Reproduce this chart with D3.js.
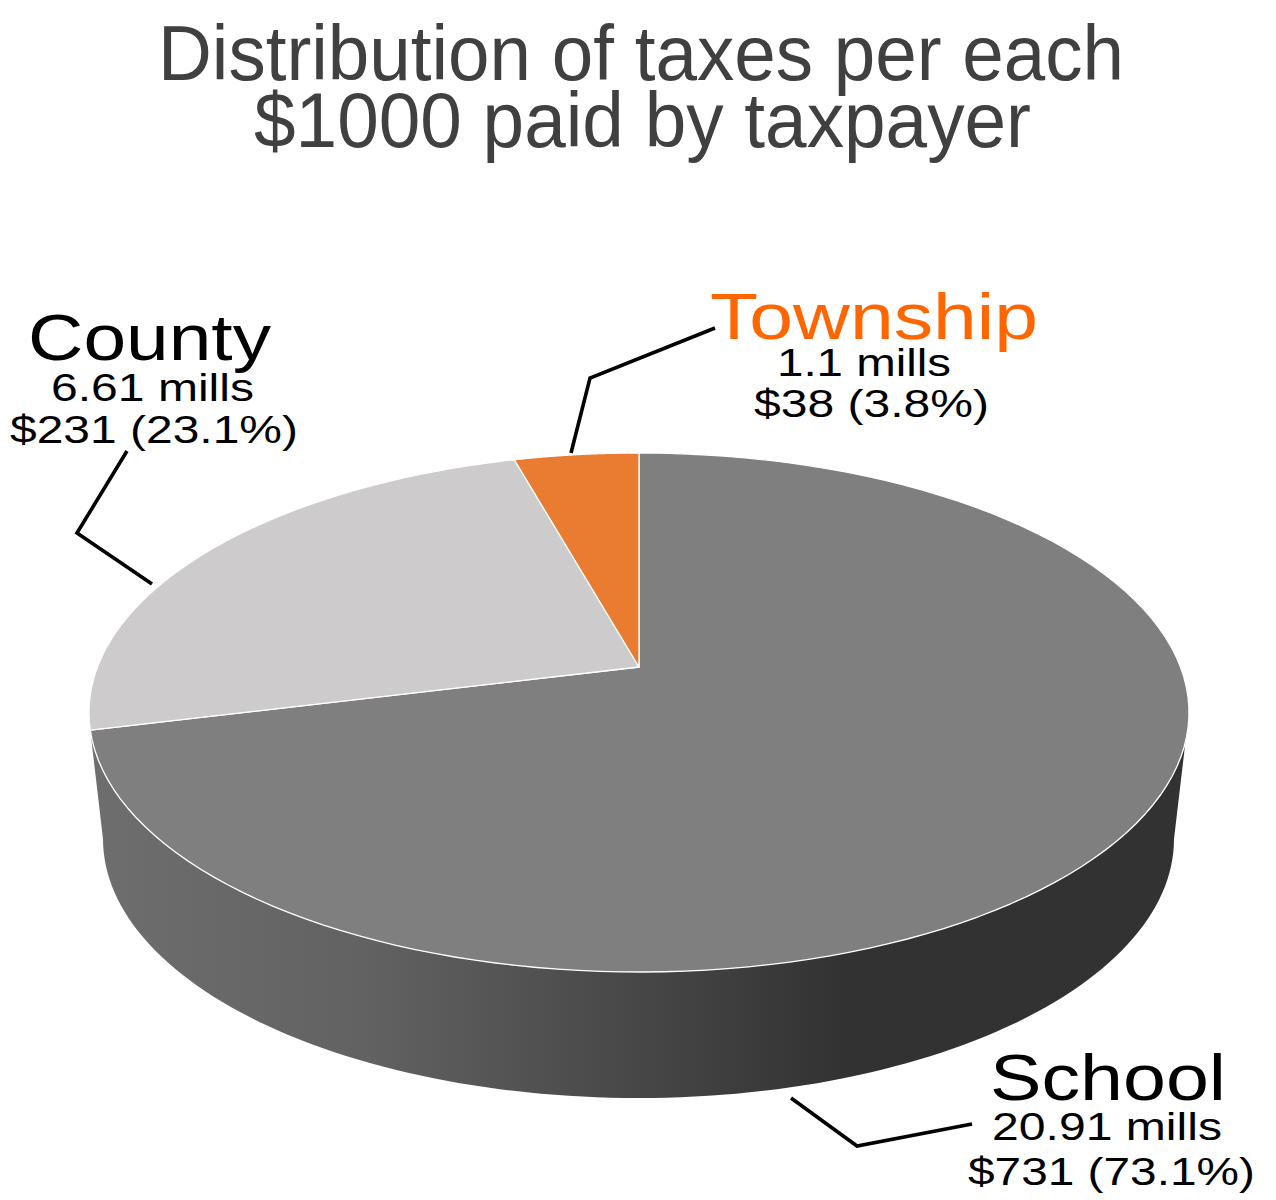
<!DOCTYPE html>
<html><head><meta charset="utf-8"><style>html,body{margin:0;padding:0;background:#fff}svg{display:block}text{font-family:"Liberation Sans",Arial,sans-serif}</style>
<script src="https://d3js.org/d3.v7.min.js"></script></head><body><svg id="c" width="1276" height="1200"></svg>
<script>
const names = ["School", "County", "Township"];
const mills = [20.91, 6.61, 1.1];
const dollars = [731, 231, 38];
const shares = [73.1, 23.1, 3.8];
const sliceColors = ["#7f7f7f", "#cdcbcb", "#e97c30"];
const nameColors = ["#000", "#000", "#ff6600"];
const titleLines = ["Distribution of taxes per each", "$1000 paid by taxpayer"];

const svg = d3.select("#c");
const rad = Math.PI / 180;
const top_ = {cx: 639, cy: 712.5, rx: 550, ry: 259.5};
const bot = {cx: 638.5, cy: 839, rx: 535.5, ry: 259};
const apex = [639, 667];

// Perspective: pie angle -> angle round the drawn ellipse
const warp = d3.scaleLinear()
  .domain([0, 263.16, 346.32, 360].map(d => d * rad))
  .range([0, 266.1, 346.9, 360].map(d => d * rad));
const rim = (e, t) => [e.cx + e.rx * Math.sin(t), e.cy - e.ry * Math.cos(t)];
const samples = (a, b, n = 120) => d3.range(n + 1).map(i => a + (b - a) * i / n);
const line = d3.line();

const defs = svg.append("defs");
const grad = defs.append("linearGradient").attr("id", "wall")
  .attr("gradientUnits", "userSpaceOnUse").attr("x1", 90).attr("x2", 1186).attr("y1", 0).attr("y2", 0);
[[0, "#6e6e6e"], [0.25, "#626262"], [0.5, "#474747"], [0.69, "#323232"], [1, "#323232"]]
  .forEach(([o, c]) => grad.append("stop").attr("offset", o).attr("stop-color", c));

// Side wall
const tLeft = warp(263.16 * rad), tRight = 96.5 * rad;
const wall = [
  ...samples(tLeft, tRight).map(t => rim(top_, t)),
  ...samples(90 * rad, 270 * rad).map(t => rim(bot, t))
];
svg.append("path").attr("d", line(wall) + "Z").attr("fill", "url(#wall)");

// Slices
const pie = d3.pie().sort(null).value(d => d)(dollars);
svg.selectAll("path.slice").data(pie).join("path").attr("class", "slice")
  .attr("d", d => line([apex, ...samples(warp(d.startAngle), warp(d.endAngle)).map(t => rim(top_, t))]) + "Z")
  .attr("fill", (d, i) => sliceColors[i])
  .attr("stroke", "#fff").attr("stroke-width", 1.3).attr("stroke-linejoin", "round");

// Leader lines
const leaders = [
  [[791, 1098], [857, 1146], [972, 1124]],
  [[127, 451], [77, 533], [152, 584]],
  [[571, 453], [590, 378], [715, 328]]
];
svg.selectAll("path.leader").data(leaders).join("path").attr("class", "leader")
  .attr("d", line).attr("fill", "none").attr("stroke", "#000").attr("stroke-width", 3.6);

function stretched(str, x0, x1, base, size, fill) {
  svg.append("text").attr("x", x0).attr("y", base).attr("font-size", size).attr("fill", fill)
    .attr("textLength", x1 - x0).attr("lengthAdjust", "spacingAndGlyphs").text(str);
}
// Title
stretched(titleLines[0], 158, 1124, 80, 78, "#404040");
stretched(titleLines[1], 254, 1031, 147, 78, "#404040");

// Labels
const boxes = [
  {n: [990, 1226, 1100], m: [992, 1222, 1140], d: [968, 1255, 1185]},
  {n: [28, 271, 360], m: [51, 254, 401], d: [10, 298, 443]},
  {n: [710, 1038, 339], m: [777, 951, 376], d: [754, 989, 417]}
];
names.forEach((name, i) => {
  const b = boxes[i];
  stretched(name, b.n[0], b.n[1], b.n[2], 64, nameColors[i]);
  stretched(`${mills[i]} mills`, b.m[0], b.m[1], b.m[2], 39, "#000");
  stretched(`$${dollars[i]} (${shares[i]}%)`, b.d[0], b.d[1], b.d[2], 39, "#000");
});
</script></body></html>
